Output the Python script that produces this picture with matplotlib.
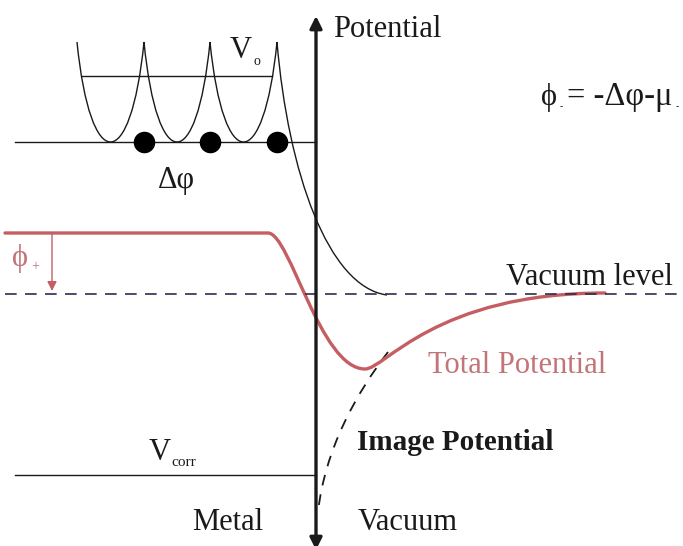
import matplotlib
matplotlib.use('Agg')
import matplotlib.pyplot as plt
from matplotlib.path import Path
from matplotlib.patches import PathPatch

plt.rcParams['font.family'] = ['Liberation Serif', 'DejaVu Serif']

# sketch drawn in pixel units (y grows downwards)
W, H = 683, 546
axis_x = 316

# levels
well_top = 42
well_floor = 142
vo_level = 76
plateau = 233
vacuum = 294
vcorr = 475

cusp_x = [77, 144, 210, 277]
atom_x = [144, 210, 277]

# bezier control points
tail_curve = [(277, 42), (288, 172), (328, 287), (387, 295)]
total_drop = [(268, 233), (290, 233), (320, 369), (365, 369)]
total_rise = [(365, 369), (385, 369), (435, 293), (605, 293)]
image_curve = [(388, 352), (355, 395), (325, 450), (318, 512)]

red = '#c45e62'
red_txt = '#c27478'
ink = '#1a1a1a'

fig = plt.figure(figsize=(W / 100, H / 100), dpi=100)
ax = fig.add_axes([0, 0, 1, 1])
ax.set_xlim(0, W)
ax.set_ylim(H, 0)
ax.axis('off')

# periodic wells of the metal (round-bottomed, cusped at the top)
verts, codes = [], []
for a, b in zip(cusp_x[:-1], cusp_x[1:]):
    w = b - a
    cy = well_floor + (well_floor - well_top) / 3
    verts += [(a, well_top), (a + 0.2 * w, cy), (b - 0.2 * w, cy), (b, well_top)]
    codes += [Path.MOVETO, Path.CURVE4, Path.CURVE4, Path.CURVE4]
verts += tail_curve
codes += [Path.MOVETO, Path.CURVE4, Path.CURVE4, Path.CURVE4]
ax.add_patch(PathPatch(Path(verts, codes), fc='none', ec=ink, lw=1.0))

ax.plot([cusp_x[0] + 5, cusp_x[-1] - 5], [vo_level, vo_level], color=ink, lw=1.0)
ax.plot([15, axis_x], [well_floor, well_floor], color=ink, lw=1.0)
ax.plot(atom_x, [well_floor] * len(atom_x), 'o', color='black', ms=14.5)

# vacuum level
ax.plot([5, W], [vacuum, vacuum], color='#2b2d4f', lw=1.2, dashes=(7, 5))

# V_corr level
ax.plot([15, axis_x], [vcorr, vcorr], color=ink, lw=1.0)

# image potential
ip = Path(image_curve, [Path.MOVETO, Path.CURVE4, Path.CURVE4, Path.CURVE4])
ax.add_patch(PathPatch(ip, fc='none', ec=ink, lw=1.3, ls=(0, (6, 5))))

# total potential
tp = Path([(5, plateau)] + total_drop + total_rise[1:],
          [Path.MOVETO, Path.LINETO, Path.CURVE4, Path.CURVE4, Path.CURVE4,
           Path.CURVE4, Path.CURVE4, Path.CURVE4])
ax.add_patch(PathPatch(tp, fc='none', ec=red, lw=2.4, capstyle='round'))

# phi+ arrow
ax.annotate('', xy=(52, vacuum - 3), xytext=(52, plateau),
            arrowprops=dict(arrowstyle='-|>', color=red, lw=1.0,
                            mutation_scale=14, shrinkA=0, shrinkB=0))

# potential axis
ax.annotate('', xy=(axis_x, 16), xytext=(axis_x, 550),
            arrowprops=dict(arrowstyle='<|-|>', color=ink, lw=2.4,
                            mutation_scale=18, shrinkA=0, shrinkB=0))

# labels
fs = 22
ax.text(333, 37, 'Potential', fontsize=fs, color=ink, va='baseline')
ax.text(230, 58, 'V', fontsize=fs, color=ink, va='baseline')
ax.text(254, 65, 'o', fontsize=10, color=ink, va='baseline')
ax.text(158, 188, 'Δφ', fontsize=fs, color=ink, va='baseline')
ax.text(541, 105, 'ϕ', fontsize=fs, color=ink, va='baseline')
ax.text(560, 109, '-', fontsize=7, color=ink, va='baseline')
ax.text(567, 105, '= -Δφ-μ', fontsize=23.5, color=ink, va='baseline')
ax.text(676, 109, '-', fontsize=7, color=ink, va='baseline')
ax.text(12, 266, 'ϕ', fontsize=22, color=red_txt, va='baseline')
ax.text(31, 270, '+', fontsize=10, color=red_txt, va='baseline')
ax.text(506, 285, 'Vacuum level', fontsize=fs, color=ink, va='baseline')
ax.text(428, 373, 'Total Potential', fontsize=fs, color=red_txt, va='baseline')
ax.text(357, 450, 'Image Potential', fontsize=21, color=ink, va='baseline',
        fontweight='bold')
ax.text(149, 460, 'V', fontsize=fs, color=ink, va='baseline')
ax.text(171, 466, 'corr', fontsize=11, color=ink, va='baseline')
ax.text(192, 530, 'Metal', fontsize=fs, color=ink, va='baseline')
ax.text(358, 530, 'Vacuum', fontsize=fs, color=ink, va='baseline')

fig.savefig('out.png', dpi=100)
